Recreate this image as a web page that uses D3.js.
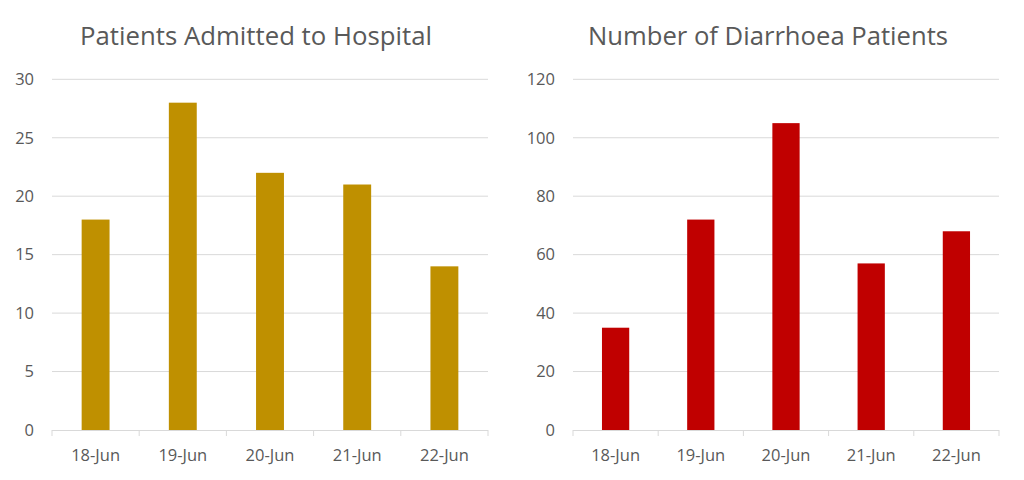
<!DOCTYPE html>
<html><head><meta charset="utf-8">
<script src="https://cdn.jsdelivr.net/npm/d3@7"></script>
<style>body{margin:0;background:#fff}svg{display:block}</style>
</head><body>
<svg id="c" width="1024" height="480"></svg>
<script>
const categories = ["18-Jun","19-Jun","20-Jun","21-Jun","22-Jun"];
const admitted = [18, 28, 22, 21, 14];
const diarrhoea = [35, 72, 105, 57, 68];
const admittedTicks = [0,5,10,15,20,25,30];
const diarrhoeaTicks = [0,20,40,60,80,100,120];
const titles = ["Patients Admitted to Hospital", "Number of Diarrhoea Patients"];

const svg = d3.select("#c");
const FONT = "'Open Sans', 'Noto Sans', sans-serif";
const TXT = "#595959", GRID = "#d9d9d9";

function chart(cfg){
  const g = svg.append("g");
  const x = d3.scaleBand().domain(categories).range([cfg.x0, cfg.x1]).paddingInner(0.68).paddingOuter(0.34);
  const y = d3.scaleLinear().domain([0, cfg.max]).range([430, 79.3]);
  // gridlines
  g.selectAll(".grid").data(cfg.ticks.filter(t=>t>0)).join("line")
    .attr("x1", cfg.x0).attr("x2", cfg.x1)
    .attr("y1", d=>y(d)).attr("y2", d=>y(d))
    .attr("stroke", GRID).attr("stroke-width", 1);
  // y labels
  g.selectAll(".yl").data(cfg.ticks).join("text")
    .attr("x", cfg.x0 - 18).attr("y", d=>y(d)).attr("dy","0.35em")
    .attr("text-anchor","end").attr("font-family",FONT).attr("font-size",16.5).attr("fill",TXT)
    .text(d=>d);
  // bars
  g.selectAll(".bar").data(cfg.values).join("rect")
    .attr("x",(d,i)=>x(categories[i])).attr("width",x.bandwidth())
    .attr("y",d=>y(d)).attr("height",d=>y(0)-y(d)).attr("fill",cfg.color);
  // x axis
  const ax = g.append("g").attr("transform","translate(0,430)")
    .call(d3.axisBottom(x).tickSize(0).tickPadding(19));
  ax.select(".domain").attr("stroke",GRID).attr("stroke-width",1).attr("d",`M${cfg.x0},0.5H${cfg.x1}`);
  ax.selectAll("text").attr("font-family",FONT).attr("font-size",16.5).attr("fill",TXT);
  // boundary tick marks
  const step = x.step();
  const bounds = d3.range(categories.length+1).map(i=>cfg.x0 + i*step);
  ax.selectAll(".bt").data(bounds).join("line")
    .attr("x1",d=>d).attr("x2",d=>d).attr("y1",0).attr("y2",6)
    .attr("stroke",GRID).attr("stroke-width",1);
  // title
  g.append("text").attr("x",cfg.tx).attr("y",45).attr("text-anchor","middle")
    .attr("font-family",FONT).attr("font-size",25).attr("fill",TXT)
    .attr("textLength",cfg.tl).attr("lengthAdjust","spacingAndGlyphs")
    .text(cfg.title);
}

chart({x0:52, x1:488, max:30, ticks:admittedTicks, values:admitted, color:"#bf9000", title:titles[0], tx:256, tl:352});
chart({x0:573, x1:999, max:120, ticks:diarrhoeaTicks, values:diarrhoea, color:"#c00000", title:titles[1], tx:768, tl:360});
</script>
</body></html>
